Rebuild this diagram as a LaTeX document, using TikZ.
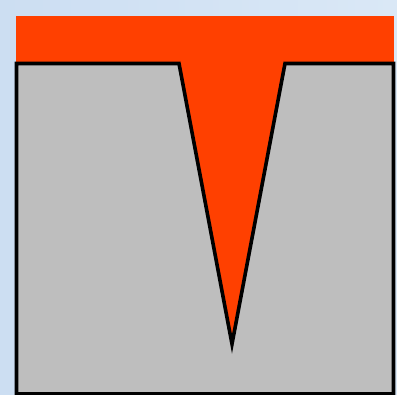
\documentclass[tikz,border=0pt]{standalone}
\definecolor{bgblue}{RGB}{204,222,242}
\definecolor{bgblue2}{RGB}{218,232,246}
\definecolor{hotred}{RGB}{255,64,0}
\definecolor{metal}{RGB}{190,190,190}
\begin{document}
\begin{tikzpicture}[x=1pt,y=-1pt,
  metalpart/.style={fill=metal,draw=black,line width=3.6pt,line join=miter,miter limit=20}]
\useasboundingbox (0,0) rectangle (397,395);
\shade[left color=bgblue,right color=bgblue2] (0,0) rectangle (397,395);
\fill[hotred] (16,16) rectangle (394,70);
\fill[hotred] (175,63) -- (232,346) -- (289,63) -- cycle;
\draw[metalpart] (16.5,63.5) -- (179,63.5) -- (232,344) -- (285,63.5) -- (393.5,63.5) -- (393.5,394) -- (16.5,394) -- cycle;
\end{tikzpicture}
\end{document}
